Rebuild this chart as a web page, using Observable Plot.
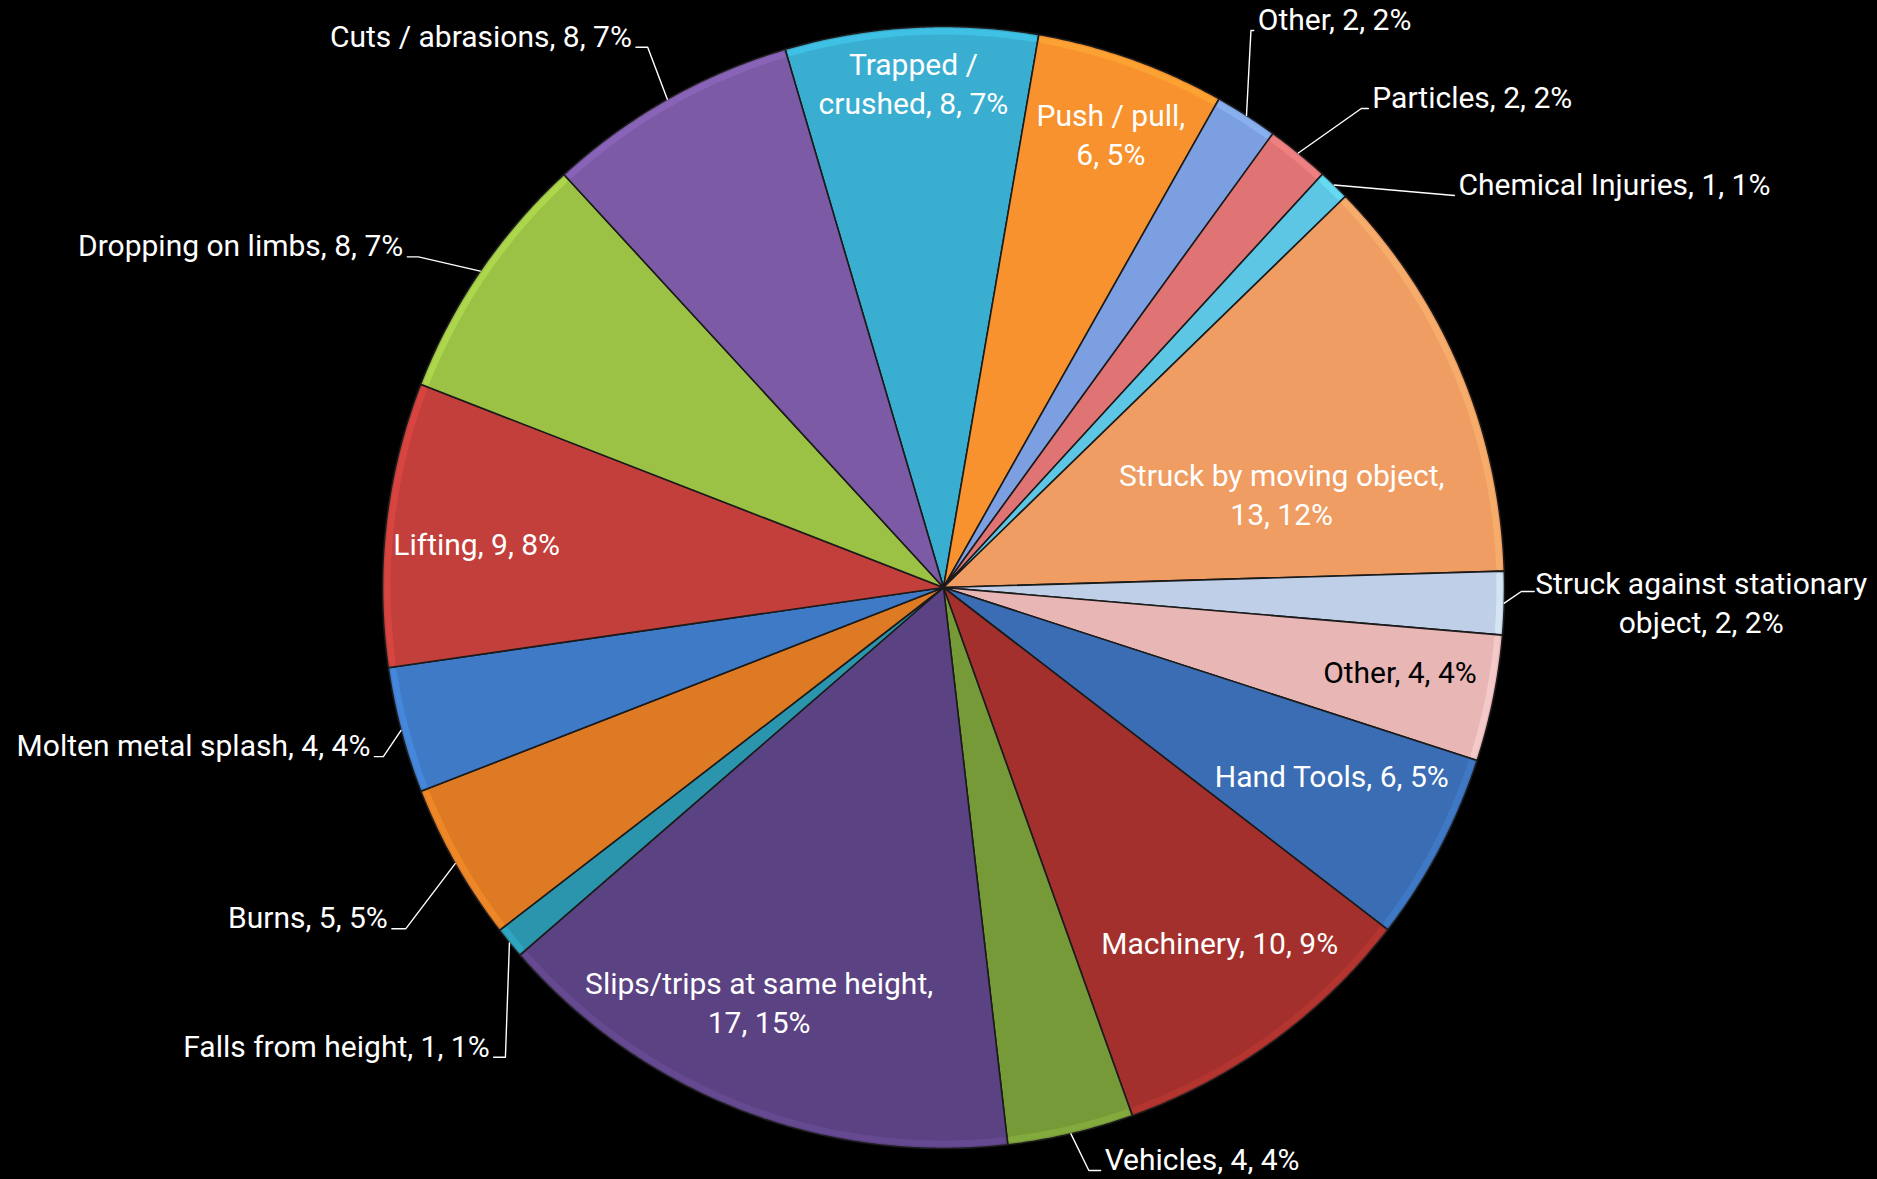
<!DOCTYPE html>
<html>
<head>
<meta charset="utf-8">
<script src="https://cdn.jsdelivr.net/npm/d3@7"></script>
<script src="https://cdn.jsdelivr.net/npm/@observablehq/plot@0.6"></script>
<style>
  html, body { margin: 0; padding: 0; background: #000; }
</style>
</head>
<body>
<div id="chart"></div>
<script>
// ---- data (clockwise from the top) ----
const categories = ["Trapped / crushed", "Push / pull", "Other", "Particles", "Chemical Injuries",
  "Struck by moving object", "Struck against stationary object", "Other", "Hand Tools", "Machinery",
  "Vehicles", "Slips/trips at same height", "Falls from height", "Burns", "Molten metal splash",
  "Lifting", "Dropping on limbs", "Cuts / abrasions"];
const counts = [8, 6, 2, 2, 1, 13, 2, 4, 6, 10, 4, 17, 1, 5, 4, 9, 8, 8];
const colors = ["#3AAED0", "#F7922E", "#7B9FE0", "#E07475", "#5CC6E4",
  "#EF9D62", "#C0CFE8", "#E9B6B6", "#3A6DB3", "#A3302C",
  "#779A38", "#5B4283", "#2B95AE", "#DF7A24", "#3F7AC6",
  "#C33F3B", "#9BC145", "#7C5AA6"];
// label line breaks (text after which the label wraps)
const wrapAfter = ["Trapped /", "Push / pull,", null, null, null, "object,", "stationary", null, null, null,
  null, "height,", null, null, null, null, null, null];

// ---- layout (label placement, in radius units / degrees) ----
const startAngle = -16.4;
const placement = [
  {kind: "in", r: 0.902, da: -0.1},
  {kind: "in", r: 0.864, da: 0.6},
  {kind: "out", er: 1.134, ea: 28.9, tail: 0.005, anchor: "start"},
  {kind: "out", er: 1.133, ea: 41.1, tail: 0.0125, anchor: "start"},
  {kind: "out", er: 1.148, ea: 52.5, tail: 0, anchor: "start"},
  {kind: "in", r: 0.626, da: 7.3},
  {kind: "out", er: 1.030, ea: 90.4, tail: 0.023, anchor: "middle"},
  {kind: "in", r: 0.827, da: -1.1, dark: true},
  {kind: "in", r: 0.768, da: -2.1},
  {kind: "in", r: 0.801, da: -1.9},
  {kind: "out", er: 1.071, ea: 166.0, tail: 0.021, anchor: "start"},
  {kind: "in", r: 0.807, da: 2.8},
  {kind: "out", er: 1.145, ea: 223.0, tail: -0.021, anchor: "end"},
  {kind: "out", er: 1.135, ea: 237.6, tail: -0.025, anchor: "end"},
  {kind: "out", er: 1.043, ea: 253.2, tail: -0.016, anchor: "end"},
  {kind: "in", r: 0.836, da: -1.0},
  {kind: "out", er: 1.106, ea: 302.2, tail: -0.020, anchor: "end"},
  {kind: "out", er: 1.098, ea: 331.3, tail: -0.021, anchor: "end"}
];

const rad = Math.PI / 180;
const total = d3.sum(counts);
const polar = (r, a) => ({x: r * Math.sin(a * rad), y: r * Math.cos(a * rad)});

let acc = 0;
const slices = counts.map((v, i) => {
  const a0 = startAngle + acc / total * 360;
  acc += v;
  const a1 = startAngle + acc / total * 360;
  return {i, a0, a1, mid: (a0 + a1) / 2};
});
function slicePolygon(s) {
  const pts = [{x: 0, y: 0}];
  for (let a = s.a0; a < s.a1; a += 0.4) pts.push(polar(1, a));
  pts.push(polar(1, s.a1));
  pts.push({x: 0, y: 0});
  return pts;
}
// a thin band just inside the rim of each slice (bevel highlight)
function rimArc(s, r) {
  const pts = [];
  const b0 = s.a0 + 0.45, b1 = s.a1 - 0.45;
  for (let a = b0; a < b1; a += 0.4) pts.push(polar(r, a));
  pts.push(polar(r, b1));
  return pts;
}

function labelText(i) {
  const pct = Math.round(counts[i] / total * 100);
  let t = `${categories[i]}, ${counts[i]}, ${pct}%`;
  const w = wrapAfter[i];
  if (w) t = t.replace(w + " ", w + "\n");
  return t;
}

const inside = [], outside = [], leaders = [];
slices.forEach(s => {
  const p = placement[s.i];
  if (p.kind === "in") {
    inside.push({...polar(p.r, s.mid + p.da), text: labelText(s.i), dark: !!p.dark});
  } else {
    const e = polar(1, s.mid);
    const b = polar(p.er, p.ea);
    const t = {x: b.x + p.tail, y: b.y};
    leaders.push({id: s.i, ...e}, {id: s.i, ...b}, {id: s.i, ...t});
    outside.push({...t, text: labelText(s.i), anchor: p.anchor});
  }
});

const font = 'Roboto, "Liberation Sans Narrow", sans-serif';
const fs = 30;

const sliceMarks = slices.map(s => Plot.line(slicePolygon(s), {
  x: "x", y: "y", fill: colors[s.i], stroke: "#1b1b1b", strokeWidth: 1.6,
  strokeLinejoin: "round", curve: "linear"
}));
const rimMarks = slices.map(s => Plot.line(rimArc(s, 0.991), {
  x: "x", y: "y", stroke: d3.color(colors[s.i]).brighter(0.6).formatHex(), strokeWidth: 6,
  strokeOpacity: 0.45, curve: "linear"
}));

const chart = Plot.plot({
  width: 1877,
  height: 1179,
  margin: 0,
  style: {background: "black", fontFamily: font, overflow: "visible"},
  x: {domain: [-1, 1], range: [382, 1504], axis: null},
  y: {domain: [-1, 1], range: [1148, 26], axis: null},
  marks: [
    ...sliceMarks,
    ...rimMarks,
    Plot.line(leaders, {x: "x", y: "y", z: "id", stroke: "white", strokeWidth: 1.4, curve: "linear"}),
    Plot.text(inside.filter(d => !d.dark), {x: "x", y: "y", text: "text", fill: "white", fontSize: fs, lineHeight: 1.3}),
    Plot.text(inside.filter(d => d.dark), {x: "x", y: "y", text: "text", fill: "black", fontSize: fs, lineHeight: 1.3}),
    Plot.text(outside.filter(d => d.anchor === "start"), {x: "x", y: "y", text: "text", fill: "white",
      fontSize: fs, textAnchor: "start", dx: 4, dy: -10}),
    Plot.text(outside.filter(d => d.anchor === "end"), {x: "x", y: "y", text: "text", fill: "white",
      fontSize: fs, textAnchor: "end", dx: -4, dy: -10}),
    Plot.text(outside.filter(d => d.anchor === "middle"), {x: "x", y: "y", text: "text", fill: "white",
      fontSize: fs, textAnchor: "middle", dx: 167, dy: 9, lineHeight: 1.3})
  ]
});

document.getElementById("chart").appendChild(chart);
</script>
</body>
</html>
